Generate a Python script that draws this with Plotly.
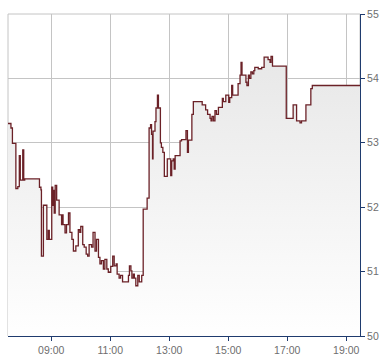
import plotly.graph_objects as go

DAY = "2024-01-15"

times = ["07:32","07:38","07:41","07:48","07:52","07:55","07:57","08:02","08:04","08:06",
         "08:36","08:39","08:40","08:44","08:51","08:54","08:56","09:01","09:03","09:05",
         "09:06","09:08","09:11","09:16","09:21","09:23","09:24","09:28","09:31","09:35",
         "09:38","09:42","09:45","09:50","09:55","09:58","10:00","10:04","10:07","10:11",
         "10:14","10:17","10:22","10:25","10:29","10:32","10:36","10:39","10:42","10:46",
         "10:49","10:53","10:56","11:01","11:05","11:08","11:12","11:14","11:18","11:21",
         "11:25","11:37","11:39","11:42","11:44","11:47","11:49","11:52","11:56","11:59",
         "12:04","12:07","12:15","12:19","12:22","12:24","12:26","12:27","12:31","12:33",
         "12:36","12:38","12:42","12:44","12:47","12:50","12:56","13:03","13:05","13:08",
         "13:10","13:12","13:22","13:25","13:34","13:37","13:39","13:46","13:49","14:07",
         "14:14","14:18","14:23","14:25","14:27","14:30","14:33","14:36","14:40","14:48",
         "14:50","14:55","15:01","15:03","15:07","15:09","15:20","15:24","15:26","15:28",
         "15:36","15:38","15:41","15:43","15:46","15:49","15:52","15:54","16:01","16:08",
         "16:13","16:21","16:25","16:27","16:30","16:58","17:12","17:19","17:26","17:29",
         "17:38","17:48","17:51","19:28"]

prices = [53.30,53.23,52.99,52.29,52.32,52.80,52.42,52.89,52.42,52.44,
          52.31,52.27,51.24,52.03,51.50,51.64,51.50,52.31,52.03,52.26,
          51.91,52.34,52.11,51.88,51.73,51.88,51.73,51.60,51.73,51.91,
          51.61,51.50,51.32,51.40,51.65,51.61,51.70,51.42,51.38,51.27,
          51.24,51.42,51.38,51.61,51.32,51.50,51.22,51.12,51.17,51.04,
          51.19,51.04,50.99,51.08,51.24,51.09,51.12,50.96,50.90,50.94,
          50.84,50.94,51.09,51.01,50.90,50.96,50.90,50.78,50.94,50.84,
          50.94,51.97,52.14,53.23,53.28,53.13,52.75,53.18,53.33,53.54,
          53.74,53.54,53.00,52.93,52.85,52.48,52.75,52.49,52.72,52.75,
          52.59,52.80,53.03,53.05,53.19,52.85,53.04,53.44,53.64,53.59,
          53.51,53.44,53.38,53.34,53.41,53.34,53.50,53.44,53.55,53.69,
          53.64,53.74,53.63,53.70,53.89,53.74,53.92,54.05,54.25,54.05,
          53.94,53.89,54.05,54.00,54.10,54.07,54.12,54.17,54.15,54.17,
          54.33,54.29,54.25,54.34,54.19,53.38,53.59,53.34,53.31,53.34,
          53.59,53.84,53.89,53.89]

x_ticks = ["09:00", "11:00", "13:00", "15:00", "17:00", "19:00"]
y_ticks = [50, 51, 52, 53, 54, 55]
x_range = ["07:32", "19:28"]

NAVY = "#1f3b6e"
GRID = "#c4c4c4"
LABEL = "#6e6e6e"

xs = [f"{DAY} {t}" for t in times]

fig = go.Figure()
fig.add_trace(go.Scatter(
    x=xs, y=prices, mode="lines", line=dict(shape="hv", color="#6b2127", width=1.3),
    fill="tozeroy",
    fillgradient=dict(type="vertical", colorscale=[[0, "#ffffff"], [1, "#e4e4e4"]],
                      start=50, stop=55),
    hoverinfo="skip",
))

fig.update_layout(
    width=390, height=364,
    margin=dict(l=8, r=30, t=11, b=26),
    paper_bgcolor="white", plot_bgcolor="white",
    showlegend=False,
    font=dict(family="Liberation Sans, Arial, sans-serif", size=10.5, color=LABEL),
    shapes=[dict(type="rect", xref="paper", yref="paper", x0=0, y0=0, x1=1, y1=1,
                 line=dict(color=GRID, width=1), layer="below")],
)
fig.update_xaxes(
    range=[f"{DAY} {x_range[0]}", f"{DAY} {x_range[1]}"],
    tickvals=[f"{DAY} {t}" for t in x_ticks], ticktext=x_ticks,
    showgrid=True, gridcolor=GRID, gridwidth=1,
    ticks="outside", ticklen=4, tickcolor=NAVY,
    showline=True, linecolor=NAVY, linewidth=1,
    zeroline=False,
)
fig.update_yaxes(
    range=[50, 55], side="right", tickvals=y_ticks,
    showgrid=True, gridcolor=GRID, gridwidth=1,
    ticks="outside", ticklen=4, tickcolor=NAVY,
    showline=True, linecolor=NAVY, linewidth=1,
    zeroline=False,
)

fig.write_html("out.html", config={"displayModeBar": False})
